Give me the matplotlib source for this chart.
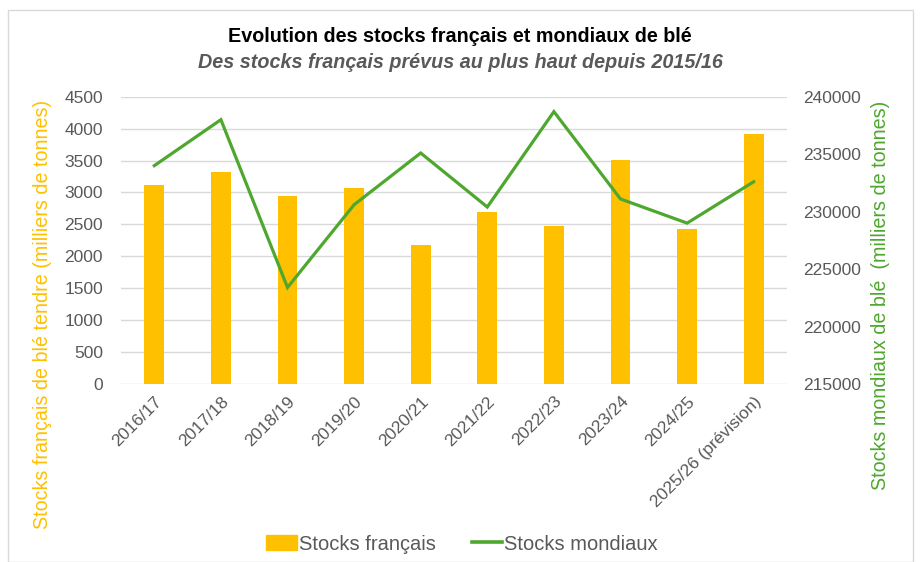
import matplotlib
matplotlib.use("Agg")
import matplotlib.pyplot as plt
from matplotlib.patches import Rectangle
from matplotlib.lines import Line2D

categories = ["2016/17", "2017/18", "2018/19", "2019/20", "2020/21", "2021/22",
              "2022/23", "2023/24", "2024/25", "2025/26 (prévision)"]
stocks_francais = [3120, 3320, 2950, 3070, 2180, 2700, 2475, 3510, 2425, 3910]
stocks_mondiaux = [234000, 238000, 223400, 230600, 235100, 230400, 238700, 231100, 229000, 232600]
left_ticks = list(range(0, 5000, 500))
right_ticks = list(range(215000, 245000, 5000))

ORANGE = "#FFC000"
GREEN = "#4EA72E"
GRAY = "#595959"
FONT = ["Liberation Sans", "DejaVu Sans"]

W, H = 921, 562
fig = plt.figure(figsize=(W / 100, H / 100), dpi=100)

# outer border
fig.patches.append(Rectangle((8 / W, 0), 905 / W, (H - 10) / H, transform=fig.transFigure,
                             fill=False, edgecolor="#D9D9D9", linewidth=1))

ax_l, ax_r = 121, 787
ax_t, ax_b = 96.7, 384
ax = fig.add_axes([ax_l / W, 1 - ax_b / H, (ax_r - ax_l) / W, (ax_b - ax_t) / H])
ax2 = ax.twinx()

x = list(range(len(categories)))
ax.bar(x, stocks_francais, width=0.3, color=ORANGE, zorder=2)
ax.set_ylim(0, 4500)
ax.set_xlim(-0.5, len(categories) - 0.5)
ax.set_yticks(left_ticks)
ax.yaxis.grid(True, color="#D9D9D9", linewidth=1)
ax.set_axisbelow(True)

ax2.plot(x, stocks_mondiaux, color=GREEN, linewidth=2.3, solid_joinstyle="miter", zorder=3)
ax2.set_ylim(215000, 240000)
ax2.set_yticks(right_ticks)

for a in (ax, ax2):
    for s in a.spines.values():
        s.set_visible(False)
    a.tick_params(length=0, colors=GRAY, labelsize=12.5)
    for lab in a.get_yticklabels():
        lab.set_family(FONT)
ax.tick_params(axis="y", pad=13)
ax2.tick_params(axis="y", pad=11.5)

ax.set_xticks(x)
ax.set_xticklabels(categories, rotation=45, ha="right", rotation_mode="anchor",
                   fontsize=12.5, color=GRAY, family=FONT)
ax.tick_params(axis="x", pad=7)

fig.text(43 / W, 1 - 314 / H, "Stocks français de blé tendre (milliers de tonnes)",
         rotation=90, ha="center", va="center", color=ORANGE, fontsize=14.2, family=FONT)
fig.text(880 / W, 1 - 295 / H, "Stocks mondiaux de blé  (milliers de tonnes)",
         rotation=90, ha="center", va="center", color=GREEN, fontsize=14.2, family=FONT)

fig.text(460 / W, 1 - 37 / H, "Evolution des stocks français et mondiaux de blé",
         ha="center", va="center", fontsize=14.2, fontweight="bold", family=FONT, color="black")
fig.text(460 / W, 1 - 62 / H, "Des stocks français prévus au plus haut depuis 2015/16",
         ha="center", va="center", fontsize=14.2, fontweight="bold", style="italic",
         family=FONT, color=GRAY)

handles = [Rectangle((0, 0), 1, 1, color=ORANGE),
           Line2D([0], [0], color=GREEN, linewidth=2.6)]
fig.legend(handles, ["Stocks français", "Stocks mondiaux"], loc="center",
           bbox_to_anchor=(462 / W, 1 - 544 / H), ncol=2, frameon=False,
           prop={"family": FONT, "size": 14.5}, labelcolor=GRAY,
           handlelength=1.5, handleheight=0.8, handletextpad=0.1, columnspacing=1.8)

fig.savefig("out.png", dpi=100)
